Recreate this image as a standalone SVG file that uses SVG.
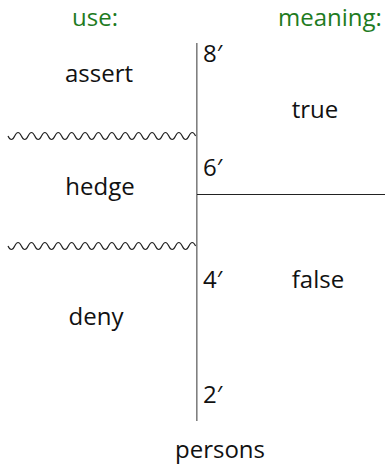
<svg xmlns="http://www.w3.org/2000/svg" width="385" height="465" viewBox="0 0 385 465">
<style>
text{font-family:"Open Sans","Liberation Sans",Arial,sans-serif;font-size:24px;fill:#111}
.hd{fill:#1e7b1e;text-anchor:middle}
.c{text-anchor:middle}
.axis{stroke:#808080;stroke-width:1.6;fill:none}
.cut{stroke:#222;stroke-width:1.2;fill:none}
.wave{stroke:#222;stroke-width:1.2;fill:none}
</style>
<rect width="385" height="465" fill="#fff"/>
<g id="connectors">
<line class="axis" x1="196.8" y1="43" x2="196.8" y2="421"/>
<line class="cut" x1="197" y1="194.5" x2="385" y2="194.5"/>
<path class="wave" d="M8,136 q3.35,7 6.7,0 t6.7,0 t6.7,0 t6.7,0 t6.7,0 t6.7,0 t6.7,0 t6.7,0 t6.7,0 t6.7,0 t6.7,0 t6.7,0 t6.7,0 t6.7,0 t6.7,0 t6.7,0 t6.7,0 t6.7,0 t6.7,0 t6.7,0 t6.7,0 t6.7,0 t6.7,0 t6.7,0 t6.7,0 t6.7,0 t6.7,0 t6.7,0"/>
<path class="wave" d="M8,246 q3.35,7 6.7,0 t6.7,0 t6.7,0 t6.7,0 t6.7,0 t6.7,0 t6.7,0 t6.7,0 t6.7,0 t6.7,0 t6.7,0 t6.7,0 t6.7,0 t6.7,0 t6.7,0 t6.7,0 t6.7,0 t6.7,0 t6.7,0 t6.7,0 t6.7,0 t6.7,0 t6.7,0 t6.7,0 t6.7,0 t6.7,0 t6.7,0 t6.7,0"/>
</g>
<g id="header-use"><text class="hd" x="95" y="26">use:</text></g>
<g id="header-meaning"><text class="hd" x="330" y="26">meaning:</text></g>
<g id="tick-8"><text x="203" y="62">8′</text></g>
<g id="tick-6"><text x="203" y="176">6′</text></g>
<g id="tick-4"><text x="203" y="288">4′</text></g>
<g id="tick-2"><text x="203" y="403">2′</text></g>
<g id="assert"><text class="c" x="99" y="82">assert</text></g>
<g id="hedge"><text class="c" x="100" y="195">hedge</text></g>
<g id="deny"><text class="c" x="96" y="325">deny</text></g>
<g id="true"><text class="c" x="315" y="118">true</text></g>
<g id="false"><text class="c" x="318" y="288">false</text></g>
<g id="persons"><text class="c" x="220" y="458">persons</text></g>
</svg>
